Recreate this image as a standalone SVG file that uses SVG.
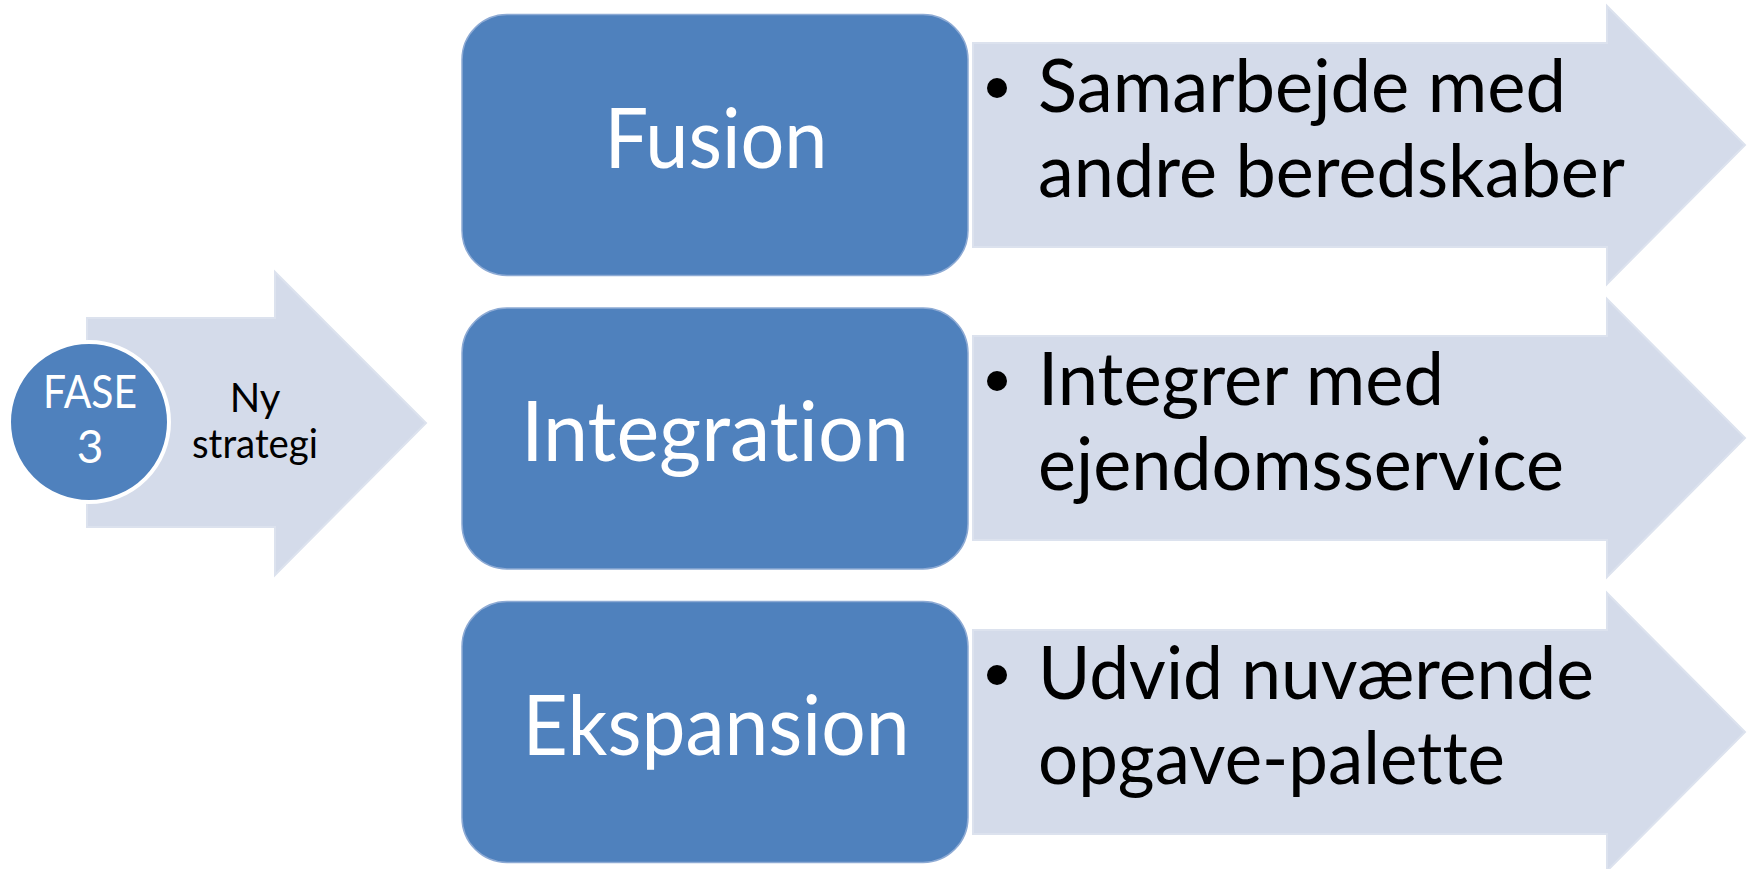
<svg xmlns="http://www.w3.org/2000/svg" width="1748" height="869" viewBox="0 0 1748 869">
<style>
.arr{fill:#D4DBEA;stroke:#DCE2EE;stroke-width:2}
.box{fill:#4F81BD;stroke:#8DAAD4;stroke-width:1.5}
.wt{fill:#FFFFFF;font-family:Lato,"Liberation Sans",sans-serif;font-variant-ligatures:none}
.bt{fill:#000000;font-family:Lato,"Liberation Sans",sans-serif;font-variant-ligatures:none}
.lbl{font-size:84px;text-anchor:middle}
.itm{font-size:73px}
</style>
<rect width="1748" height="869" fill="#FFFFFF"/>
<g id="phase">
<polygon class="arr" points="87,318 275,318 275,272 426,423 275,575 275,527 87,527"/>
<circle cx="89" cy="422" r="80" fill="#4F81BD" stroke="#FFFFFF" stroke-width="4"/>
<text class="wt" x="90" y="408" font-size="46" text-anchor="middle" textLength="94" lengthAdjust="spacingAndGlyphs">FASE</text>
<text class="wt" x="90" y="463" font-size="46" text-anchor="middle">3</text>
<text class="bt" x="255" y="412" font-size="40" text-anchor="middle">Ny</text>
<text class="bt" x="255" y="458" font-size="40" text-anchor="middle" textLength="126" lengthAdjust="spacingAndGlyphs">strategi</text>
</g>
<g id="row-fusion">
<polygon class="arr" points="973,43 1607,43 1607,6 1745,145 1607,284 1607,247 973,247"/>
<rect class="box" x="462" y="14.5" width="506" height="261" rx="45"/>
<text class="wt lbl" x="716" y="168" textLength="223" lengthAdjust="spacingAndGlyphs">Fusion</text>
<circle cx="997" cy="88" r="10" fill="#000"/>
<text class="bt itm" x="1038" y="112" textLength="528" lengthAdjust="spacingAndGlyphs">Samarbejde med</text>
<text class="bt itm" x="1038" y="197" textLength="587" lengthAdjust="spacingAndGlyphs">andre beredskaber</text>
</g>
<g id="row-integration">
<polygon class="arr" points="973,336 1607,336 1607,299 1745,438 1607,577 1607,540 973,540"/>
<rect class="box" x="462" y="308" width="506" height="261" rx="45"/>
<text class="wt lbl" x="715" y="461" textLength="388" lengthAdjust="spacingAndGlyphs">Integration</text>
<circle cx="997" cy="381" r="10" fill="#000"/>
<text class="bt itm" x="1038" y="405" textLength="406" lengthAdjust="spacingAndGlyphs">Integrer med</text>
<text class="bt itm" x="1038" y="490" textLength="526" lengthAdjust="spacingAndGlyphs">ejendomsservice</text>
</g>
<g id="row-ekspansion">
<polygon class="arr" points="973,630 1607,630 1607,593 1745,732 1607,871 1607,834 973,834"/>
<rect class="box" x="462" y="601.5" width="506" height="261" rx="45"/>
<text class="wt lbl" x="716" y="755" textLength="387" lengthAdjust="spacingAndGlyphs">Ekspansion</text>
<circle cx="997" cy="675" r="10" fill="#000"/>
<text class="bt itm" x="1038" y="699" textLength="556" lengthAdjust="spacingAndGlyphs">Udvid nuværende</text>
<text class="bt itm" x="1038" y="784" textLength="467" lengthAdjust="spacingAndGlyphs">opgave-palette</text>
</g>
<g id="connectors"></g>
</svg>
